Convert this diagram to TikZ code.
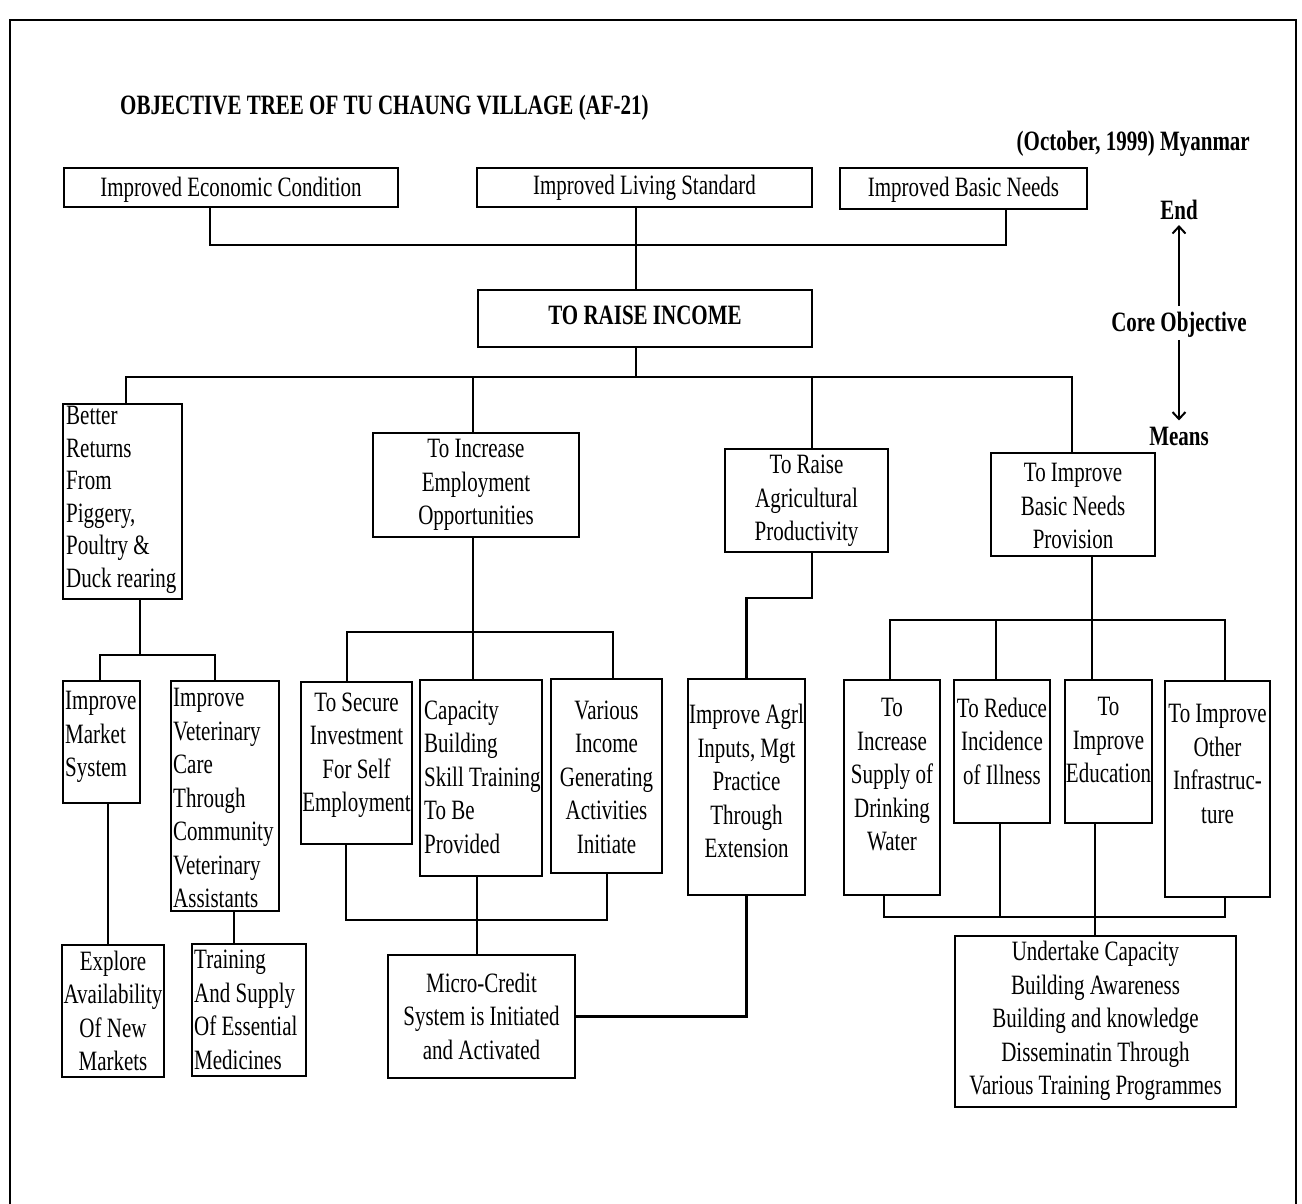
\documentclass[tikz,border=0pt]{standalone}
\usepackage{fontspec}
\setmainfont{Liberation Serif}[FakeStretch=0.75]
\usetikzlibrary{arrows.meta}
\begin{document}
\begin{tikzpicture}[x=1pt,y=-1pt,
  box/.style={draw, line width=2.2pt, rectangle, inner sep=0pt},
  txt/.style={inner sep=0pt, font=\fontsize{28}{33.5}\selectfont},
  head/.style={inner sep=0pt, font=\fontsize{28}{30}\selectfont\bfseries},
  link/.style={line width=2.2pt},
  legendarrow/.style={line width=2pt, -{Straight Barb[length=7pt,width=13pt]}}]
\useasboundingbox[fill=white] (0,0) rectangle (1302,1204);

% page frame
\draw[line width=2pt] (10,1204) -- (10,20) -- (1296,20) -- (1296,1204);

% headings
\node[head, anchor=west] (title) at (120,108) {OBJECTIVE TREE OF TU CHAUNG VILLAGE (AF-21)};
\node[head, anchor=east] (date) at (1250,144) {(October, 1999) Myanmar};

% end / means legend
\node[head] (endlbl) at (1179,210) {End};
\node[head] (corelbl) at (1179,325) {Core Objective};
\node[head] (meanslbl) at (1179,436) {Means};
\draw[legendarrow, shorten <=6pt, shorten >=5pt] (corelbl.north) -- (endlbl.south);
\draw[legendarrow, shorten <=2pt, shorten >=6pt] (corelbl.south) -- (meanslbl.north);

% ends
\node[box, minimum width=334pt, minimum height=39pt] (B1) at (231,187.5) {};
\node[txt] (B1-t) at (231,190) {Improved Economic Condition};
\node[box, minimum width=335pt, minimum height=39pt] (B2) at (644.5,187.5) {};
\node[txt] (B2-t) at (644.5,188) {Improved Living Standard};
\node[box, minimum width=247pt, minimum height=41pt] (B3) at (963.5,188.5) {};
\node[txt] (B3-t) at (963.5,190) {Improved Basic Needs};

% core objective
\node[box, minimum width=334pt, minimum height=57pt] (Core) at (645,318.5) {};
\node[head] (Core-t) at (645,315) {TO RAISE INCOME};

% means, first level
\node[box, minimum width=119pt, minimum height=195pt] (A) at (122.5,501.5) {};
\node[txt, align=left, anchor=west, font=\fontsize{28}{32.5}\selectfont] (A-t) at (66,500)
  {Better\\Returns\\From\\Piggery,\\Poultry \&\\Duck rearing};
\node[box, minimum width=206pt, minimum height=104pt] (E) at (476,485) {};
\node[txt, align=center] (E-t) at (476,485) {To Increase\\Employment\\Opportunities};
\node[box, minimum width=163pt, minimum height=103pt] (R) at (806.5,500.5) {};
\node[txt, align=center] (R-t) at (806.5,501) {To Raise\\Agricultural\\Productivity};
\node[box, minimum width=164pt, minimum height=103pt] (P) at (1073,504.5) {};
\node[txt, align=center] (P-t) at (1073,506) {To Improve\\Basic Needs\\Provision};

% livestock branch
\node[box, minimum width=77pt, minimum height=122pt] (M) at (101.5,742) {};
\node[txt, align=left, anchor=west] (M-t) at (65,737) {Improve\\Market\\System};
\node[box, minimum width=108pt, minimum height=230pt] (V) at (225,796) {};
\node[txt, align=left, anchor=west] (V-t) at (173,798)
  {Improve\\Veterinary\\Care\\Through\\Community\\Veterinary\\Assistants};
\node[box, minimum width=102pt, minimum height=132pt] (X) at (113,1011) {};
\node[txt, align=center] (X-t) at (113,1011) {Explore\\Availability\\Of New\\Markets};
\node[box, minimum width=114pt, minimum height=132pt] (T) at (249,1010) {};
\node[txt, align=left, anchor=west] (T-t) at (194,1010) {Training\\And Supply\\Of Essential\\Medicines};

% employment branch
\node[box, minimum width=111pt, minimum height=162pt] (S) at (356.5,763) {};
\node[txt, align=center] (S-t) at (356.5,755) {To Secure\\Investment\\For Self\\Employment};
\node[box, minimum width=122pt, minimum height=196pt] (C) at (481,778) {};
\node[txt, align=left, anchor=west] (C-t) at (424,777) {Capacity\\Building\\Skill Training\\To Be\\Provided};
\node[box, minimum width=111pt, minimum height=194pt] (G) at (606.5,776) {};
\node[txt, align=center] (G-t) at (606.5,777) {Various\\Income\\Generating\\Activities\\Initiate};
\node[box, minimum width=187pt, minimum height=123pt] (MC) at (481.5,1016.5) {};
\node[txt, align=center] (MC-t) at (481.5,1016) {Micro-Credit\\System is Initiated\\and Activated};

% agriculture branch
\node[box, minimum width=117pt, minimum height=216pt] (AG) at (746.5,787) {};
\node[txt, align=center] (AG-t) at (746.5,781) {Improve Agrl\\Inputs, Mgt\\Practice\\Through\\Extension};

% basic needs branch
\node[box, minimum width=96pt, minimum height=215pt] (DW) at (892,787.5) {};
\node[txt, align=center] (DW-t) at (892,775) {To\\Increase\\Supply of\\Drinking\\Water};
\node[box, minimum width=96pt, minimum height=143pt] (RI) at (1002,751.5) {};
\node[txt, align=center] (RI-t) at (1002,741) {To Reduce\\Incidence\\of Illness};
\node[box, minimum width=87pt, minimum height=143pt] (IE) at (1108.5,751.5) {};
\node[txt, align=center] (IE-t) at (1108.5,740) {To\\Improve\\Education};
\node[box, minimum width=105pt, minimum height=216pt] (OI) at (1217.5,789) {};
\node[txt, align=center] (OI-t) at (1217.5,764) {To Improve\\Other\\Infrastruc-\\ture};
\node[box, minimum width=281pt, minimum height=171pt] (UC) at (1095.5,1021.5) {};
\node[txt, align=center] (UC-t) at (1095.5,1021)
  {Undertake Capacity\\Building Awareness\\Building and knowledge\\Disseminatin Through\\Various Training Programmes};

% junctions
\coordinate (j1) at (636,245);
\coordinate (j2) at (636,377);
\coordinate (jA) at (140,655);
\coordinate (jE) at (473,632);
\coordinate (jF) at (477,920);
\coordinate (jR) at (812,598);
\coordinate (jP) at (1092,620);
\coordinate (jQ) at (1095,917);
\coordinate (jQr) at (1000,917);

% ends to core objective
\draw[link] ([xshift=-21pt]B1.south) |- (j1) -| ([xshift=42.5pt]B3.south);
\draw[link] ([xshift=-8.5pt]B2.south) -- ([xshift=-9pt]Core.north);

% core objective to means
\draw[link] ([xshift=-9pt]Core.south) -- (j2);
\draw[link] (j2) -| ([xshift=3.5pt]A.north);
\draw[link] (j2) -| ([xshift=-3pt]E.north);
\draw[link] (j2) -| ([xshift=5.5pt]R.north);
\draw[link] (j2) -| ([xshift=-1pt]P.north);

% livestock branch links
\draw[link] ([xshift=17.5pt]A.south) -- (jA);
\draw[link] (jA) -| ([xshift=-1.5pt]M.north);
\draw[link] (jA) -| ([xshift=-10pt]V.north);
\draw[link] ([xshift=6.5pt]M.south) -- ([xshift=-5pt]X.north);
\draw[link] ([xshift=9pt]V.south) -- ([xshift=-15pt]T.north);

% employment branch links
\draw[link] ([xshift=-3pt]E.south) -- (jE);
\draw[link] (jE) -| ([xshift=-9.5pt]S.north);
\draw[link] (jE) -- ([xshift=-8pt]C.north);
\draw[link] (jE) -| ([xshift=6.5pt]G.north);
\draw[link] ([xshift=-10.5pt]S.south) |- (jF) -| ([xshift=0.5pt]G.south);
\draw[link] ([xshift=-4pt]C.south) -- ([xshift=-4.5pt]MC.north);
\draw[link] (MC.east) -| (AG.south);

% agriculture branch links
\draw[link] ([xshift=5.5pt]R.south) -- (jR) -| (AG.north);

% basic needs branch links
\draw[link] ([xshift=19pt]P.south) -- (jP);
\draw[link] (jP) -| ([xshift=-2pt]DW.north);
\draw[link] (jP) -| ([xshift=-6pt]RI.north);
\draw[link] (jP) -- ([xshift=-16.5pt]IE.north);
\draw[link] (jP) -| ([xshift=7.5pt]OI.north);
\draw[link] ([xshift=-8pt]DW.south) |- (jQ) -| ([xshift=7.5pt]OI.south);
\draw[link] ([xshift=-2pt]RI.south) -- (jQr);
\draw[link] ([xshift=-13.5pt]IE.south) -- ([xshift=-0.5pt]UC.north);
\end{tikzpicture}
\end{document}
